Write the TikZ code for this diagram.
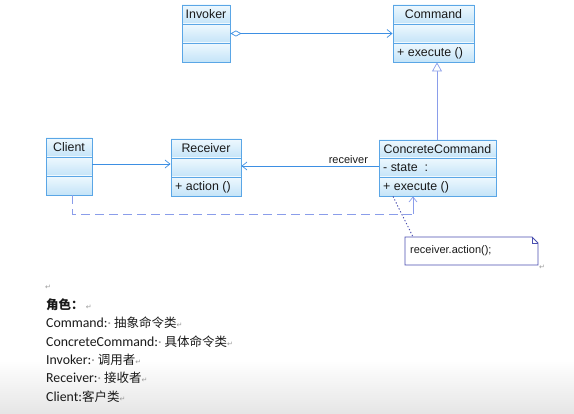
\documentclass[tikz,border=0pt]{standalone}
\usepackage{fontspec}
\setmainfont{Liberation Sans}
\newfontfamily\calfont{Carlito}
\newfontfamily\cjk{Noto Sans CJK SC}
\newfontfamily\symfont{DejaVu Sans}
\usetikzlibrary{arrows.meta,fit}
\definecolor{boxtop}{HTML}{EEF8FE}
\definecolor{boxbot}{HTML}{C4E4F8}
\definecolor{boxborder}{HTML}{5AA6E6}
\definecolor{assoccol}{HTML}{3D8FE3}
\definecolor{gencol}{HTML}{8A9DEA}
\definecolor{notecol}{HTML}{4A4FB0}
\definecolor{markcol}{HTML}{9A9A9A}
\definecolor{txt}{HTML}{1A1A1A}
\newcommand\pmark{{\symfont\fontsize{7}{7}\selectfont\color{markcol}↵}}
\newcommand\sdot{{\color{markcol}·}\hspace{3pt}}
\tikzset{
  classtitle/.style={inner sep=0pt,text height=8.8pt,text depth=0pt,text=txt,font=\fontsize{12.4}{14}\selectfont},
  member/.style={inner sep=0pt,anchor=west,text height=8.8pt,text depth=0pt,text=txt,font=\fontsize{12.4}{14}\selectfont},
  assoc/.style={draw=assoccol,line width=0.8pt},
  gen/.style={draw=gencol,line width=0.8pt},
  openhead/.style={-{Straight Barb[length=5pt,width=8pt,line width=0.7pt]}},
  roleline/.style={inner sep=0pt,anchor=west,text=txt,text height=10pt,text depth=0pt,font=\calfont\fontsize{13.8}{16}\selectfont},
}
\newcommand\classbox[8]{%
  \shade[top color=boxtop,bottom color=boxbot] (#2,#3) rectangle (#4,#6);
  \shade[top color=boxtop,bottom color=boxbot] (#2,#6) rectangle (#4,#7);
  \shade[top color=boxtop,bottom color=boxbot] (#2,#7) rectangle (#4,#5);
  \draw[boxborder,line width=0.9pt] (#2,#6) -- (#4,#6) (#2,#7) -- (#4,#7);
  \node[draw=boxborder,line width=0.9pt,inner sep=0pt,fit={(#2,#3) (#4,#5)}] (#1) {};
  \node[classtitle] (#1-t) at ({(#2+#4)/2},{(#3+#6)/2}) {#8};
}
\begin{document}
\begin{tikzpicture}[x=1pt,y=-1pt]
\useasboundingbox (0,0) rectangle (574,414);
\fill[white] (0,0) rectangle (574,414);
\shade[top color=white,bottom color=black!10] (0,360) rectangle (574,414);

% classes
\classbox{inv}{182}{5}{230}{62}{24}{43}{Invoker}
\classbox{cmd}{393}{5}{474}{62}{24}{43}{Command}
\node[member] (cmd-op) at (397,52.5) {+ execute ()};
\classbox{client}{46}{138}{92}{195}{157}{176}{Client}
\classbox{recv}{171}{139}{241}{196}{158}{177}{Receiver}
\node[member] (recv-op) at (175,186.5) {+ action ()};
\classbox{cc}{379}{140}{496}{196}{158}{177}{ConcreteCommand}
\node[member] (cc-at) at (383,167.5) {- state \ :};
\node[member] (cc-op) at (383,186.5) {+ execute ()};

% connectors
\draw[assoc,{Diamond[open,length=11pt,width=6pt,line width=0.7pt]}-{Straight Barb[length=5pt,width=8pt,line width=0.7pt]}]
  (inv.east) -- (cmd.west);
\draw[gen,-{Triangle[open,length=9pt,width=10pt,line width=0.7pt,fill=white]}]
  (cc.north -| 437,0) -- (cmd.south -| 437,0);
\draw[assoc,openhead] (client.east |- 0,164) -- (recv.west |- 0,164);
\draw[assoc,openhead] (cc.west |- 0,166) -- node[pos=0.22,above=0.5pt,inner sep=1pt,text=txt,font=\fontsize{11}{13}\selectfont] (rlab) {receiver} (recv.east |- 0,166);
\coordinate (d1) at (413,214);
\draw[gen,dash pattern=on 9pt off 5pt] ([xshift=3pt]client.south) |- (d1);
\draw[gen,openhead] (d1) -- (d1 |- cc.south);

% note
\node[inner sep=0pt,fit={(405,237) (538,265)}] (note) {};
\draw[notecol,line width=0.8pt,fill=white] (405,237) -- (532,237) -- (538,243) -- (538,265) -- (405,265) -- cycle;
\draw[notecol,line width=0.6pt] (532,237) -- (532,243) -- (538,243);
\node[inner sep=0pt,anchor=west,text=txt,font=\fontsize{11}{13}\selectfont] (notetext) at (410,251) {receiver.action();};
\draw[notecol,line width=0.9pt,dash pattern=on 1.3pt off 2pt] (cc.south -| 393,0) -- (note.north -| 413,0);
\node[inner sep=0pt] (pm0) at (542,267) {\pmark};

% role text
\node[inner sep=0pt] (pm1) at (48,287) {\pmark};
\node[roleline] (r0) at (46,305) {{\cjk\bfseries\fontsize{12.5}{15}\selectfont 角色：}\,\pmark};
\node[roleline] (r1) at (46,323) {Command:\sdot{\cjk\fontsize{12.5}{15}\selectfont 抽象命令类}\pmark};
\node[roleline] (r2) at (46,342) {ConcreteCommand:\sdot{\cjk\fontsize{12.5}{15}\selectfont 具体命令类}\pmark};
\node[roleline] (r3) at (46,360) {Invoker:\sdot{\cjk\fontsize{12.5}{15}\selectfont 调用者}\pmark};
\node[roleline] (r4) at (46,378) {Receiver:\sdot{\cjk\fontsize{12.5}{15}\selectfont 接收者}\pmark};
\node[roleline] (r5) at (46,397) {Client:{\cjk\fontsize{12.5}{15}\selectfont 客户类}\pmark};
\end{tikzpicture}
\end{document}
